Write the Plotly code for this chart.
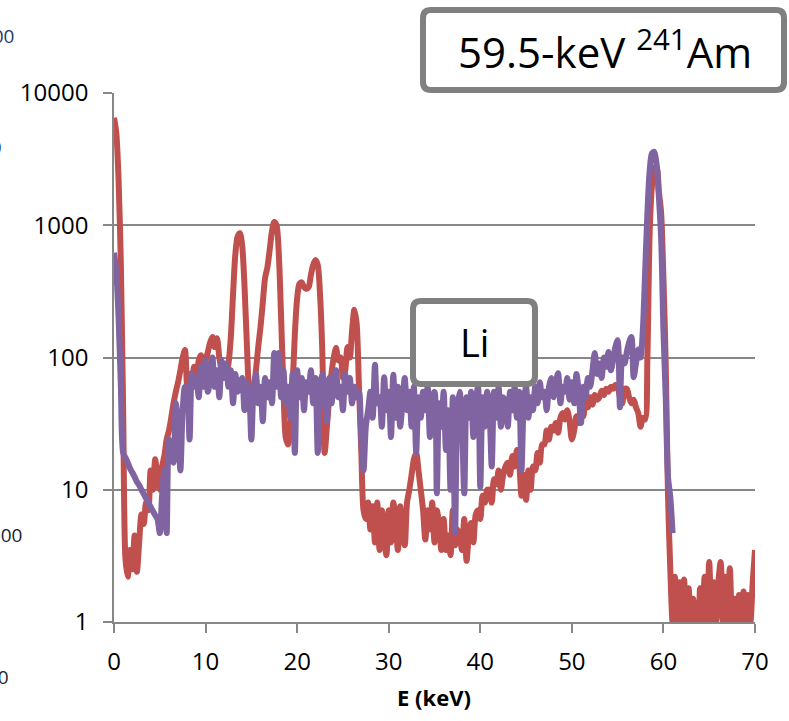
import plotly.graph_objects as go

# ---------------- data ----------------
energy_kev = [
    0, 0.25, 0.5, 0.75, 1, 1.25, 1.5, 1.75, 2, 2.25, 2.5, 2.75, 3, 3.25, 3.5, 3.75,
    4, 4.25, 4.5, 4.75, 5, 5.25, 5.5, 5.75, 6, 6.25, 6.5, 6.75, 7, 7.25, 7.5, 7.75,
    8, 8.25, 8.5, 8.75, 9, 9.25, 9.5, 9.75, 10, 10.25, 10.5, 10.75, 11, 11.25, 11.5, 11.75,
    12, 12.25, 12.5, 12.75, 13, 13.25, 13.5, 13.75, 14, 14.25, 14.5, 14.75, 15, 15.25, 15.5, 15.75,
    16, 16.25, 16.5, 16.75, 17, 17.25, 17.5, 17.75, 18, 18.25, 18.5, 18.75, 19, 19.25, 19.5, 19.75,
    20, 20.25, 20.5, 20.75, 21, 21.25, 21.5, 21.75, 22, 22.25, 22.5, 22.75, 23, 23.25, 23.5, 23.75,
    24, 24.25, 24.5, 24.75, 25, 25.25, 25.5, 25.75, 26, 26.25, 26.5, 26.75, 27, 27.25, 27.5, 27.75,
    28, 28.25, 28.5, 28.75, 29, 29.25, 29.5, 29.75, 30, 30.25, 30.5, 30.75, 31, 31.25, 31.5, 31.75,
    32, 32.25, 32.5, 32.75, 33, 33.25, 33.5, 33.75, 34, 34.25, 34.5, 34.75, 35, 35.25, 35.5, 35.75,
    36, 36.25, 36.5, 36.75, 37, 37.25, 37.5, 37.75, 38, 38.25, 38.5, 38.75, 39, 39.25, 39.5, 39.75,
    40, 40.25, 40.5, 40.75, 41, 41.25, 41.5, 41.75, 42, 42.25, 42.5, 42.75, 43, 43.25, 43.5, 43.75,
    44, 44.25, 44.5, 44.75, 45, 45.25, 45.5, 45.75, 46, 46.25, 46.5, 46.75, 47, 47.25, 47.5, 47.75,
    48, 48.25, 48.5, 48.75, 49, 49.25, 49.5, 49.75, 50, 50.25, 50.5, 50.75, 51, 51.25, 51.5, 51.75,
    52, 52.25, 52.5, 52.75, 53, 53.25, 53.5, 53.75, 54, 54.25, 54.5, 54.75, 55, 55.25, 55.5, 55.75,
    56, 56.25, 56.5, 56.75, 57, 57.25, 57.5, 57.75, 58, 58.25, 58.5, 58.75, 59, 59.25, 59.5, 59.75,
    60, 60.25, 60.5, 60.75, 61, 61.25, 61.5, 61.75, 62, 62.25, 62.5, 62.75, 63, 63.25, 63.5, 63.75,
    64, 64.25, 64.5, 64.75, 65, 65.25, 65.5, 65.75, 66, 66.25, 66.5, 66.75, 67, 67.25, 67.5, 67.75,
    68, 68.25, 68.5, 68.75, 69, 69.25, 69.5, 69.75, 70,
]

red_counts = [
    6500, 5000, 2200, 500, 40, 3.0, 2.2, 3.5, 2.5, 4.5, 2.4, 4.0, 6.5, 5.5, 8.0, 7.0,
    14, 10, 17, 12, 10, 15, 18, 24, 28, 35, 45, 55, 65, 80, 100, 114,
    60, 75, 70, 85, 65, 95, 104, 80, 95, 110, 130, 143, 120, 140, 100, 80,
    70, 75, 90, 140, 300, 600, 820, 870, 700, 350, 130, 55, 42, 55, 80, 120,
    170, 260, 400, 480, 650, 900, 1060, 1000, 600, 200, 60, 25, 22, 30, 60, 150,
    280, 360, 370, 340, 330, 340, 420, 500, 545, 500, 300, 110, 19, 30, 50, 76,
    100, 118, 95, 100, 70, 80, 120, 100, 160, 230, 180, 60, 20, 7, 6, 8,
    5, 7.5, 4, 8, 3.5, 7, 4.5, 3.2, 7, 4, 8, 6, 3.5, 7.5, 5, 3.8,
    8, 10, 13, 17, 19, 14, 10, 7, 4.2, 7, 5, 8, 4, 7, 5.5, 3.5,
    6, 3.5, 4.5, 3.2, 7, 3.8, 5, 4.5, 3.5, 6, 2.9, 4.5, 5.6, 4, 6.5, 7,
    6, 9, 8, 10, 10, 8, 12, 11, 14, 10, 13, 15, 16, 13, 18, 15,
    20, 16, 9, 13, 8.4, 14, 10, 15, 14, 19, 16, 22, 22, 28, 24, 30,
    28, 32, 27, 35, 38, 34, 40, 33, 24, 28, 36, 32, 40, 36, 46, 42,
    50, 44, 52, 48, 50, 56, 52, 58, 55, 60, 58, 62, 60, 50, 45, 58,
    58, 50, 45, 48, 42, 38, 30, 35, 34, 100, 900, 2000, 2700, 2760, 1800, 1240,
    400, 90, 9, 2.5, 1, 2.2, 1, 2.0, 1, 2.1, 1, 1.8, 1, 1.5, 1, 1,
    1.8, 1, 2.2, 1, 2.84, 1, 2.0, 1, 2.0, 2.84, 1, 2.2, 1, 2.55, 1, 1.5,
    1, 1.6, 1, 1.7, 1, 1.6, 1, 2.0, 3.5,
]

purple_counts = [
    620, 440, 200, 60, 19, 17.5, 16, 14.5, 13.5, 12.5, 11.5, 10.8, 10, 9.3, 8.6, 8.0,
    7.4, 6.9, 6.4, 6.0, 4.7, 9, 14, 4.7, 24, 20, 16, 45, 30, 14, 40, 60,
    55, 24, 76, 60, 70, 50, 85, 60, 95, 55, 70, 100, 60, 80, 50, 95,
    70, 90, 60, 80, 45, 75, 55, 60, 70, 40, 65, 55, 24, 60, 75, 45,
    60, 33, 70, 50, 65, 45, 108, 60, 108, 50, 80, 45, 60, 35, 75, 19,
    80, 50, 70, 40, 65, 55, 80, 45, 70, 19, 60, 75, 50, 33, 70, 45,
    65, 80, 50, 60, 40, 75, 55, 70, 45, 60, 50, 55, 25, 14, 30, 40,
    55, 35, 88, 45, 50, 30, 71, 40, 55, 25, 74, 35, 60, 30, 45, 70,
    40, 55, 30, 60, 19, 50, 35, 55, 40, 60, 25, 50, 55, 9.4, 45, 30,
    55, 20, 40, 10, 50, 4.7, 40, 55, 30, 9.4, 50, 35, 55, 25, 45, 60,
    10.5, 50, 30, 55, 40, 15, 55, 35, 60, 30, 50, 45, 30, 55, 40, 60,
    35, 55, 14, 45, 60, 35, 50, 40, 60, 45, 65, 50, 55, 40, 60, 70,
    50, 65, 76, 45, 60, 55, 70, 48, 65, 45, 75, 55, 32, 60, 50, 70,
    60, 80, 108, 75, 90, 70, 100, 85, 110, 80, 95, 120, 135, 42, 100, 90,
    110, 130, 143, 71, 90, 115, 100, 160, 435, 1240, 2600, 3500, 3600, 2900, 1650, 800,
    160, 50, 12.5, 8.8, 4.7,
]

x_ticks = [0, 10, 20, 30, 40, 50, 60, 70]
y_ticks = [1, 10, 100, 1000, 10000]
y_tick_labels = ["1", "10", "100", "1000", "10000"]

# ---------------- figure ----------------
W, H = 789, 721
ML, MR, MT, MB = 114, 34, 93, 99
PW, PH = W - ML - MR, H - MT - MB


def fx(px):
    return (px - ML) / PW


def fy(py):
    return (H - MB - py) / PH


RED = "#C0504D"
PURPLE = "#8064A2"
GRID = "#878787"
FONT = "Open Sans"

fig = go.Figure()
fig.add_trace(go.Scatter(x=energy_kev, y=red_counts, mode="lines",
                         line=dict(color=RED, width=6, shape="spline", smoothing=0.8),
                         name="red"))
fig.add_trace(go.Scatter(x=energy_kev[:len(purple_counts)], y=purple_counts, mode="lines",
                         line=dict(color=PURPLE, width=6, shape="spline", smoothing=0.8),
                         name="purple"))


def rounded_box(x0, y0, x1, y1, r=8):
    # pixel coords (y down) -> paper path
    rx, ry = r / PW, r / PH
    X0, X1 = fx(x0), fx(x1)
    Y0, Y1 = fy(y0), fy(y1)  # Y0 top (larger), Y1 bottom
    return (f"M {X0+rx},{Y0} L {X1-rx},{Y0} Q {X1},{Y0} {X1},{Y0-ry} "
            f"L {X1},{Y1+ry} Q {X1},{Y1} {X1-rx},{Y1} "
            f"L {X0+rx},{Y1} Q {X0},{Y1} {X0},{Y1+ry} "
            f"L {X0},{Y0-ry} Q {X0},{Y0} {X0+rx},{Y0} Z")


shapes = [
    dict(type="path", xref="paper", yref="paper", path=rounded_box(423, 10, 784, 90),
         line=dict(color="#808080", width=6), fillcolor="white", layer="above"),
    dict(type="path", xref="paper", yref="paper", path=rounded_box(413, 301, 535, 384),
         line=dict(color="#808080", width=6), fillcolor="white", layer="above"),
]

annotations = [
    dict(xref="paper", yref="paper", x=fx(605), y=fy(50), xanchor="center", yanchor="middle",
         text="59.5-keV <sup>241</sup>Am", showarrow=False,
         font=dict(family=FONT, size=42, color="black")),
    dict(xref="paper", yref="paper", x=fx(474), y=fy(342), xanchor="center", yanchor="middle",
         text="Li", showarrow=False, font=dict(family=FONT, size=38, color="black")),
    dict(xref="paper", yref="paper", x=fx(434), y=fy(697), xanchor="center", yanchor="middle",
         text="<b>E (keV)</b>", showarrow=False, font=dict(family=FONT, size=22, color="black")),
    # cropped labels of a neighbouring chart at the left edge
    dict(xref="paper", yref="paper", x=fx(16), y=fy(36), xanchor="right", yanchor="middle",
         text="1000", showarrow=False, font=dict(family=FONT, size=19, color="#1F3A6E")),
    dict(xref="paper", yref="paper", x=fx(4), y=fy(147), xanchor="right", yanchor="middle",
         text="100", showarrow=False, font=dict(family=FONT, size=19, color="#1F3A6E")),
    dict(xref="paper", yref="paper", x=fx(24), y=fy(535), xanchor="right", yanchor="middle",
         text="1000", showarrow=False, font=dict(family=FONT, size=19, color="#1a1f33")),
    dict(xref="paper", yref="paper", x=fx(11), y=fy(677), xanchor="right", yanchor="middle",
         text="100", showarrow=False, font=dict(family=FONT, size=19, color="#1a1f33")),
]

fig.update_layout(
    width=W, height=H,
    margin=dict(l=ML, r=MR, t=MT, b=MB, autoexpand=False),
    paper_bgcolor="white", plot_bgcolor="white",
    showlegend=False,
    shapes=shapes, annotations=annotations,
    font=dict(family=FONT, size=24, color="black"),
    xaxis=dict(range=[0, 70], tickvals=x_ticks, showgrid=False, zeroline=False,
               showline=True, linecolor=GRID, linewidth=1.5,
               ticks="outside", ticklen=9, tickwidth=1.5, tickcolor=GRID,
               tickfont=dict(family=FONT, size=24, color="black"), ticklabelstandoff=8),
    yaxis=dict(type="log", range=[0, 4], tickvals=y_ticks, ticktext=y_tick_labels,
               showgrid=True, gridcolor=GRID, gridwidth=1.5, zeroline=False,
               showline=True, linecolor=GRID, linewidth=1.5,
               ticks="outside", ticklen=9, tickwidth=1.5, tickcolor=GRID,
               tickfont=dict(family=FONT, size=24, color="black"), ticklabelstandoff=10),
)

fig.write_html("out.html",
               config={"displayModeBar": False},
               post_script="document.body.style.margin='0px';"
                           "document.body.style.overflow='hidden';")
